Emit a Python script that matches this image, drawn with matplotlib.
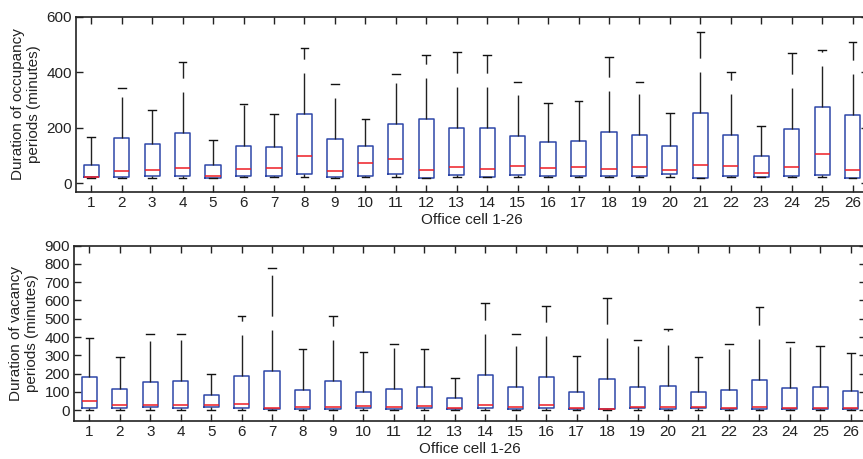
import matplotlib
matplotlib.use('Agg')
import matplotlib.pyplot as plt

plt.rcParams['font.family'] = ['Liberation Sans', 'DejaVu Sans']
plt.rcParams['font.size'] = 11
plt.rcParams['lines.scale_dashes'] = False

# office cells 1-26
cells = list(range(1, 27))

# occupancy periods (minutes)
occ_lo = [18, 20, 20, 20, 18, 21, 21, 23, 20, 23, 23, 18, 23, 23, 23, 23, 23, 23, 23, 23, 18, 23, 21, 23, 24, 18]
occ_q1 = [23, 23, 26, 26, 20, 26, 27, 33, 23, 25, 35, 19, 30, 24, 29, 26, 25, 27, 25, 32, 20, 25, 21, 25, 30, 20]
occ_med = [24, 45, 49, 55, 26, 53, 55, 98, 43, 72, 89, 49, 57, 53, 61, 55, 59, 53, 59, 48, 67, 61, 38, 59, 104, 49]
occ_q3 = [65, 164, 140, 182, 67, 136, 129, 251, 158, 133, 214, 230, 198, 198, 171, 147, 151, 183, 175, 133, 254, 175, 98, 195, 274, 245]
occ_hi = [166, 342, 263, 435, 157, 284, 249, 485, 359, 232, 393, 463, 471, 463, 364, 290, 295, 454, 364, 254, 546, 399, 208, 469, 480, 509]

# vacancy periods (minutes)
vac_lo = [0] * 26
vac_q1 = [13, 9, 15, 9, 15, 9, 4, 4, 4, 9, 4, 9, 4, 9, 4, 9, 4, 4, 9, 4, 9, 4, 4, 4, 4, 4]
vac_med = [47, 27, 26, 26, 26, 31, 13, 18, 18, 24, 18, 22, 13, 27, 18, 26, 13, 7, 18, 18, 18, 13, 18, 13, 13, 13]
vac_q3 = [179, 113, 152, 157, 84, 184, 214, 108, 161, 100, 113, 124, 66, 192, 128, 181, 100, 170, 124, 131, 100, 111, 166, 119, 124, 106]
vac_hi = [392, 288, 418, 418, 197, 517, 780, 336, 517, 318, 362, 336, 173, 586, 418, 571, 298, 615, 382, 442, 288, 362, 562, 371, 349, 314]


def make_stats(lo, q1, med, q3, hi):
    return [{'whislo': a, 'q1': b, 'med': c, 'q3': d, 'whishi': e, 'fliers': []}
            for a, b, c, d, e in zip(lo, q1, med, q3, hi)]


def draw(ax, stats, ylim, yticks, ylabel):
    bp = ax.bxp(stats, positions=cells, widths=0.5, showfliers=False,
                boxprops=dict(color='#2d46a8', linewidth=1.1),
                medianprops=dict(color='#ee1c25', linewidth=1.1),
                whiskerprops=dict(color='#222222', linewidth=1.0),
                capprops=dict(color='#111111', linewidth=1.0))
    # matlab style dashed whiskers
    for w in bp['whiskers']:
        w.set_dashes((29.5, 10))
    ax.set_xlim(0.5, 26.5)
    ax.set_ylim(*ylim)
    ax.set_yticks(yticks)
    ax.set_xticks(cells)
    ax.set_xticklabels([str(c) for c in cells])
    ax.tick_params(direction='in', top=True, right=True, length=5, width=1,
                   pad=3, colors='#222222')
    for s in ax.spines.values():
        s.set_linewidth(1.2)
        s.set_color('#222222')
    ax.set_xlabel('Office cell 1-26', labelpad=2, color='#222222')
    ax.set_ylabel(ylabel, labelpad=4, color='#222222')


fig = plt.figure(figsize=(8.63, 4.59), dpi=100)
ax1 = fig.add_axes([0.0881, 0.5824, 0.9175, 0.3816])
ax2 = fig.add_axes([0.0859, 0.0828, 0.9175, 0.3819])

draw(ax1, make_stats(occ_lo, occ_q1, occ_med, occ_q3, occ_hi),
     (-30, 600), [0, 200, 400, 600],
     'Duration of occupancy\nperiods (minutes)')
draw(ax2, make_stats(vac_lo, vac_q1, vac_med, vac_q3, vac_hi),
     (-60, 900), list(range(0, 1000, 100)),
     'Duration of vacancy\nperiods (minutes)')

fig.savefig('out.png', dpi=100)
